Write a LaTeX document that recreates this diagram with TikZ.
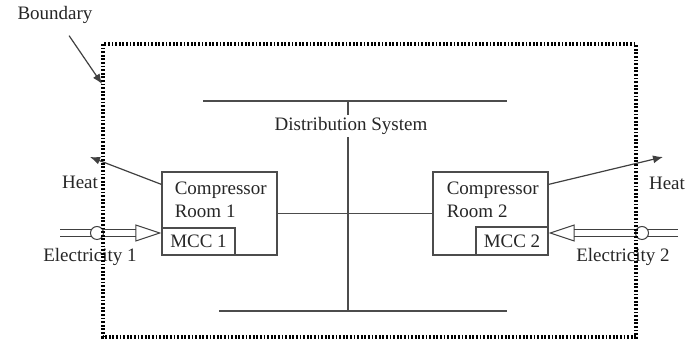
\documentclass[tikz,border=0pt]{standalone}
\usepackage{fontspec}
\setmainfont{Liberation Serif}
\usetikzlibrary{arrows.meta}
\begin{document}
\begin{tikzpicture}[x=0.5pt,y=-0.5pt,
every node/.style={font=\fontsize{9.5}{11.5}\selectfont,text=black!85},
thinline/.style={draw=black!70,line width=0.6pt},
box/.style={draw=black!70,line width=0.6pt,inner sep=0pt},
boundary/.style={line width=1.6pt,dash pattern=on 0.9pt off 0.9pt},
heatarrow/.style={draw=black!75,line width=0.6pt,-{Latex[length=5pt,width=4pt]}},
powerarrow/.style={draw=black!75,line width=0.5pt,double=white,double distance=2.6pt,
  -{Triangle[open,length=13pt,width=8.5pt]}},
junction/.style={circle,draw=black!75,fill=white,line width=0.5pt,minimum size=6.5pt,inner sep=0pt}]

\useasboundingbox (0,0) rectangle (686,340);

% compressor rooms
\node[box,minimum width=57.5pt,minimum height=41.5pt] (room1) at (219.5,213.5) {};
\node[box,minimum width=36.5pt,minimum height=13.5pt] (mcc1) at (198.5,241.5) {MCC 1};
\node[anchor=north west,align=left,inner sep=0pt] (room1text) at ([xshift=6.5pt,yshift=-5pt]room1.north west) {Compressor\\Room 1};

\node[box,minimum width=57.5pt,minimum height=41.5pt] (room2) at (490.5,213.5) {};
\node[box,minimum width=36pt,minimum height=14pt] (mcc2) at (512,241) {MCC 2};
\node[anchor=north west,align=left,inner sep=0pt] (room2text) at ([xshift=7pt,yshift=-5pt]room2.north west) {Compressor\\Room 2};

% distribution system
\coordinate (topL) at (203,101);
\coordinate (topR) at (507,101);
\coordinate (topM) at (348,101);
\coordinate (botL) at (219,311);
\coordinate (botR) at (507,311);
\coordinate (botM) at (348,311);
\draw[thinline] (topL) -- (topR);
\draw[thinline] (botL) -- (botR);
\draw[thinline] (topM) -- (botM);
\draw[thinline] (room1) -- (room2);
\node[fill=white,inner sep=1pt] (dist) at (351,126) {Distribution System};

% heat
\coordinate (heat1tip) at (90,157);
\coordinate (heat2tip) at (663,157);
\draw[heatarrow] ([yshift=-6.5pt]room1.north west) -- (heat1tip);
\draw[heatarrow] ([yshift=-6.5pt]room2.north east) -- (heat2tip);
\node (heat1) at (80,182) {Heat};
\node (heat2) at (667,183) {Heat};

% electricity
\coordinate (elec1in) at (60,233);
\coordinate (elec2in) at (678,233);
\draw[powerarrow] (elec1in) -- (mcc1.west |- elec1in);
\draw[powerarrow] (elec2in) -- (mcc2.east |- elec2in);
\node[junction] (j1) at (97,233) {};
\node[junction] (j2) at (642,233) {};
\node (elec1) at (90,257) {Electricity 1};
\node (elec2) at (623,257) {Electricity 2};

% boundary
\coordinate (bndNW) at (103,44);
\coordinate (bndSE) at (636,337);
\draw[boundary] (bndNW) rectangle (bndSE);
\coordinate (bndtip) at (102,84);
\node (bndlabel) at (55,15) {Boundary};
\draw[heatarrow,shorten <=3pt] (bndlabel) -- (bndtip);

\end{tikzpicture}
\end{document}
